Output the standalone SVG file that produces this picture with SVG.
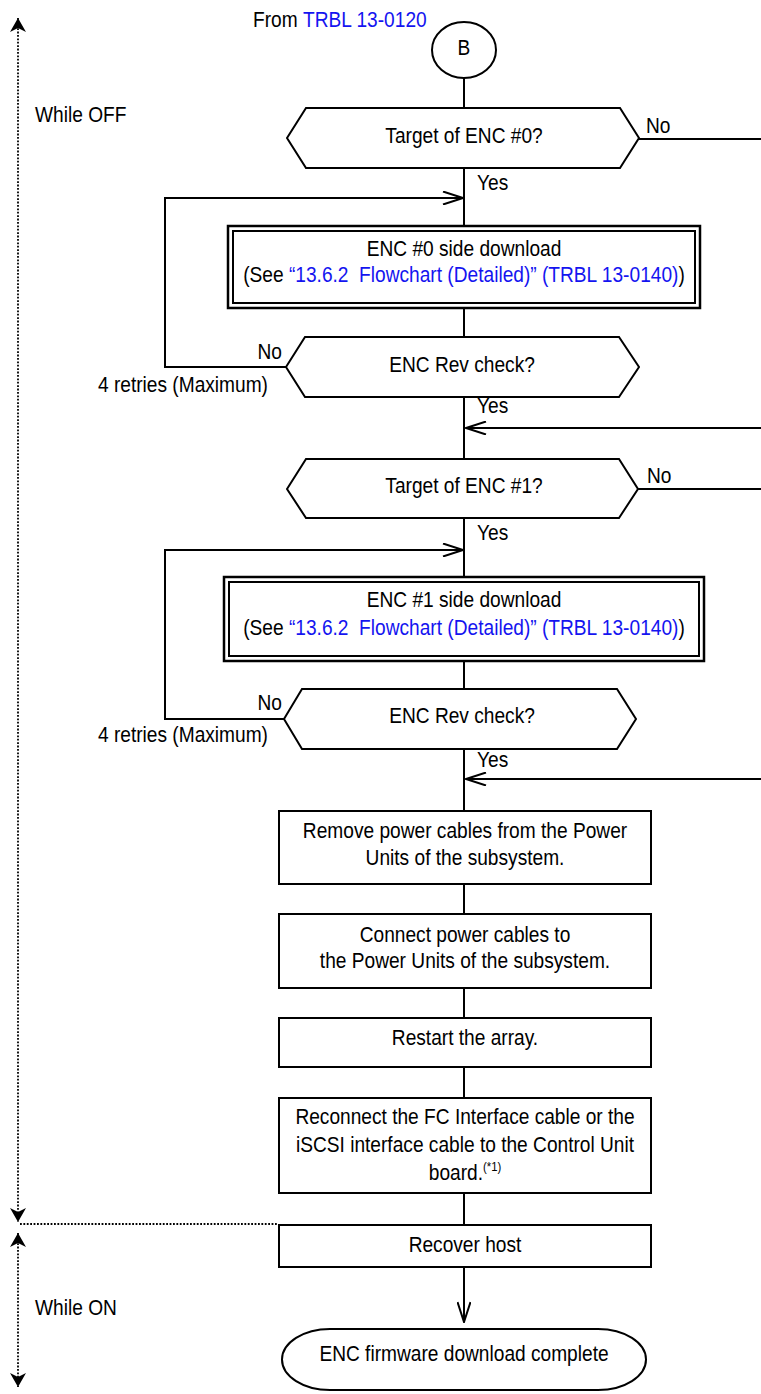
<svg xmlns="http://www.w3.org/2000/svg" width="761" height="1394" viewBox="0 0 761 1394">
<style>
.t{font-family:"Liberation Sans",Arial,sans-serif;font-size:22px;fill:#000}
.m{text-anchor:middle}
.e{text-anchor:end}
.lnk{fill:#1414f0}
.sup{font-size:13px}
.box{fill:#fff;stroke:#000;stroke-width:2}
.outer{fill:#fff;stroke:#000;stroke-width:2.5}
.conn{fill:none;stroke:#000;stroke-width:2}
.dot{fill:none;stroke:#000;stroke-width:1.8;stroke-dasharray:1.8 1.6}
</style>
<defs>
<marker id="open" markerUnits="userSpaceOnUse" viewBox="0 0 22 14" markerWidth="22" markerHeight="14" refX="21" refY="7" orient="auto">
<path d="M1,0.5 L21,7 L1,13.5" fill="none" stroke="#000" stroke-width="2"/>
</marker>
<marker id="stealth" markerUnits="userSpaceOnUse" viewBox="0 0 14 16" markerWidth="14" markerHeight="16" refX="14" refY="8" orient="auto-start-reverse">
<path d="M0,0 L14,8 L0,16 L4,8 Z" fill="#000"/>
</marker>
</defs>

<g id="phase-markers">
<path class="dot" d="M18,18 V1222" marker-start="url(#stealth)" marker-end="url(#stealth)"/>
<path class="dot" d="M18,1233 V1387" marker-start="url(#stealth)" marker-end="url(#stealth)"/>
<path class="dot" d="M20,1224 H278"/>
<text class="t" transform="translate(35 122) scale(.87 1)">While OFF</text>
<text class="t" transform="translate(35 1315) scale(.87 1)">While ON</text>
</g>

<g id="connectors">
<path class="conn" d="M464,78 V108"/>
<path class="conn" d="M464,168 V226"/>
<path class="conn" d="M464,308 V337"/>
<path class="conn" d="M464,397 V459"/>
<path class="conn" d="M464,518 V577"/>
<path class="conn" d="M464,661 V689"/>
<path class="conn" d="M464,749 V811"/>
<path class="conn" d="M464,884 V914"/>
<path class="conn" d="M464,988 V1018"/>
<path class="conn" d="M464,1067 V1098"/>
<path class="conn" d="M464,1193 V1225"/>
<path class="conn" d="M464,1267 V1322" marker-end="url(#open)"/>
<path class="conn" d="M639,139 H761"/>
<path class="conn" d="M638,489 H761"/>
<path class="conn" d="M286,367 H165 V198 H463" marker-end="url(#open)"/>
<path class="conn" d="M284,719 H165 V550 H463" marker-end="url(#open)"/>
<path class="conn" d="M761,428 H466" marker-end="url(#open)"/>
<path class="conn" d="M761,779 H466" marker-end="url(#open)"/>
<text class="t" transform="translate(477 190) scale(.87 1)">Yes</text>
<text class="t" transform="translate(477 413) scale(.87 1)">Yes</text>
<text class="t" transform="translate(477 540) scale(.87 1)">Yes</text>
<text class="t" transform="translate(477 767) scale(.87 1)">Yes</text>
<text class="t" transform="translate(646 133) scale(.87 1)">No</text>
<text class="t" transform="translate(647 483) scale(.87 1)">No</text>
<text class="t e" transform="translate(282 359) scale(.87 1)">No</text>
<text class="t e" transform="translate(282 710) scale(.87 1)">No</text>
<text class="t e" transform="translate(268 392) scale(.87 1)">4 retries (Maximum)</text>
<text class="t e" transform="translate(268 742) scale(.87 1)">4 retries (Maximum)</text>
</g>

<g id="start-B">
<text class="t" transform="translate(253 27) scale(.87 1)">From <tspan class="lnk">TRBL 13-0120</tspan></text>
<ellipse cx="464" cy="50" rx="32" ry="28" class="box"/>
<text class="t m" transform="translate(464 55) scale(.87 1)">B</text>
</g>

<g id="dec-target0">
<polygon class="box" points="287,138 306,108 620,108 639,138 620,168 306,168"/>
<text class="t m" transform="translate(464 143) scale(.87 1)">Target of ENC #0?</text>
</g>

<g id="enc0-download">
<rect class="outer" x="228" y="226" width="472" height="82"/>
<rect class="box" x="233" y="231" width="462" height="72"/>
<text class="t m" transform="translate(464 256) scale(.87 1)">ENC #0 side download</text>
<text class="t m" xml:space="preserve" transform="translate(464 282) scale(.87 1)">(See <tspan class="lnk">“13.6.2  Flowchart (Detailed)” (TRBL 13-0140)</tspan>)</text>
</g>

<g id="dec-rev0">
<polygon class="box" points="286,367 305,337 619,337 639,367 619,397 305,397"/>
<text class="t m" transform="translate(462 372) scale(.87 1)">ENC Rev check?</text>
</g>

<g id="dec-target1">
<polygon class="box" points="287,489 306,459 619,459 638,489 619,518 306,518"/>
<text class="t m" transform="translate(464 493) scale(.87 1)">Target of ENC #1?</text>
</g>

<g id="enc1-download">
<rect class="outer" x="224" y="577" width="480" height="84"/>
<rect class="box" x="229" y="582" width="470" height="74"/>
<text class="t m" transform="translate(464 607) scale(.87 1)">ENC #1 side download</text>
<text class="t m" xml:space="preserve" transform="translate(464 635) scale(.87 1)">(See <tspan class="lnk">“13.6.2  Flowchart (Detailed)” (TRBL 13-0140)</tspan>)</text>
</g>

<g id="dec-rev1">
<polygon class="box" points="284,719 302,689 617,689 636,719 617,749 302,749"/>
<text class="t m" transform="translate(462 723) scale(.87 1)">ENC Rev check?</text>
</g>

<g id="remove-power">
<rect class="box" x="279" y="811" width="372" height="73"/>
<text class="t m" transform="translate(465 838) scale(.87 1)">Remove power cables from the Power</text>
<text class="t m" transform="translate(465 865) scale(.87 1)">Units of the subsystem.</text>
</g>

<g id="connect-power">
<rect class="box" x="279" y="914" width="372" height="74"/>
<text class="t m" transform="translate(465 942) scale(.87 1)">Connect power cables to</text>
<text class="t m" transform="translate(465 968) scale(.87 1)">the Power Units of the subsystem.</text>
</g>

<g id="restart">
<rect class="box" x="279" y="1018" width="372" height="49"/>
<text class="t m" transform="translate(465 1045) scale(.87 1)">Restart the array.</text>
</g>

<g id="reconnect">
<rect class="box" x="279" y="1098" width="372" height="95"/>
<text class="t m" transform="translate(465 1124) scale(.87 1)">Reconnect the FC Interface cable or the</text>
<text class="t m" transform="translate(465 1152) scale(.87 1)">iSCSI interface cable to the Control Unit</text>
<text class="t m" transform="translate(465 1180) scale(.87 1)">board.<tspan class="sup" dy="-9">(*1)</tspan></text>
</g>

<g id="recover-host">
<rect class="box" x="279" y="1225" width="372" height="42"/>
<text class="t m" transform="translate(465 1252) scale(.87 1)">Recover host</text>
</g>

<g id="end">
<rect class="box" x="282" y="1329" width="364" height="61" rx="48" ry="30.5"/>
<text class="t m" transform="translate(464 1361) scale(.87 1)">ENC firmware download complete</text>
</g>
</svg>
